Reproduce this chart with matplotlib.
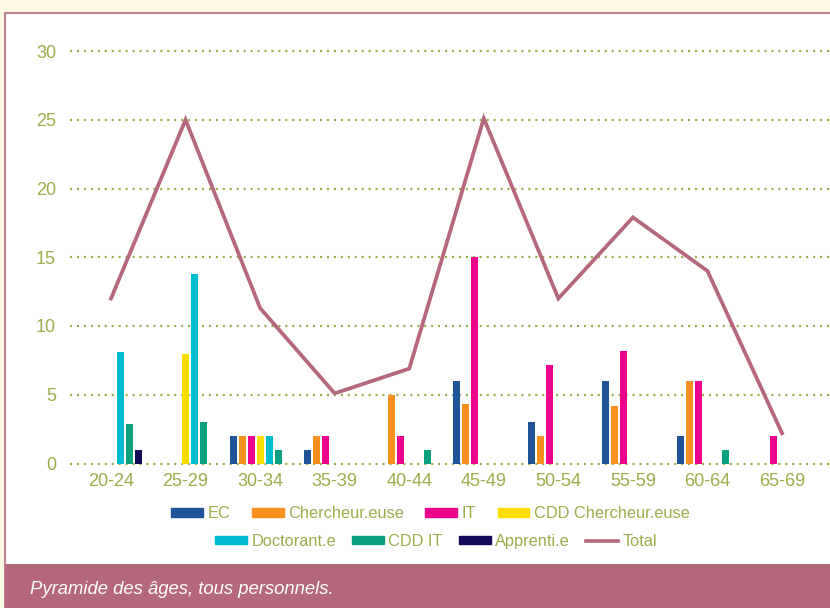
import numpy as np
import matplotlib.pyplot as plt
from matplotlib.patches import Rectangle
from matplotlib.lines import Line2D

plt.rcParams['font.family'] = ['Liberation Sans', 'DejaVu Sans']
plt.rcParams['lines.scale_dashes'] = False

ages = ['20-24', '25-29', '30-34', '35-39', '40-44',
        '45-49', '50-54', '55-59', '60-64', '65-69']

ec = [0, 0, 2, 1, 0, 6, 3, 6, 2, 0]
chercheur = [0, 0, 2, 2, 5, 4.3, 2, 4.2, 6, 0]
it = [0, 0, 2, 2, 2, 15, 7.2, 8.2, 6, 2]
cdd_chercheur = [0, 8, 2, 0, 0, 0, 0, 0, 0, 0]
doctorant = [8.1, 13.8, 2, 0, 0, 0, 0, 0, 0, 0]
cdd_it = [2.9, 3, 1, 0, 1, 0, 0, 0, 1, 0]
apprenti = [1, 0, 0, 0, 0, 0, 0, 0, 0, 0]
total = [12, 25, 11.3, 5.1, 6.9, 25.1, 12, 17.9, 14, 2.2]

series = [
    ('EC', ec, '#1f5597'),
    ('Chercheur.euse', chercheur, '#f7901e'),
    ('IT', it, '#ec008c'),
    ('CDD Chercheur.euse', cdd_chercheur, '#ffdd00'),
    ('Doctorant.e', doctorant, '#00bcd0'),
    ('CDD IT', cdd_it, '#0ba07e'),
    ('Apprenti.e', apprenti, '#140a5a'),
]

olive = '#9aae4c'
mauve = '#b5677b'
W, H = 830, 608

fig = plt.figure(figsize=(8.3, 6.08), dpi=100)
fig.patch.set_facecolor('#fef9e2')

# white panel with pink frame and caption band
fig.patches.append(Rectangle((5 / W, 0), 1, (H - 13) / H, transform=fig.transFigure,
                             facecolor='white', edgecolor=mauve, linewidth=1.2, zorder=-10))
fig.patches.append(Rectangle((5 / W, 0), 1, (H - 564) / H, transform=fig.transFigure,
                             facecolor=mauve, edgecolor='none', zorder=-9))
fig.text(30 / W, 1 - 589 / H, 'Pyramide des âges, tous personnels.', color='white',
         fontsize=13.3, style='italic', va='center', ha='left')

ax = fig.add_axes([70 / W, 1 - 463.5 / H, 760 / W, (463.5 - 51) / H])
ax.set_facecolor('none')

x = np.arange(len(ages))
slot = 0.121
bw = 0.094
for i, (name, vals, col) in enumerate(series):
    ax.bar(x + (i - 3) * slot, vals, width=bw, color=col, label=name, zorder=3)

ax.plot(x, total, color=mauve, linewidth=2.7, zorder=4, solid_joinstyle='miter')

ax.set_ylim(0, 30)
ax.set_xlim(-0.55, 9.643)
ax.set_yticks(range(0, 31, 5))
ax.set_xticks(x)
ax.set_xticklabels(ages)
ax.tick_params(length=0, colors=olive, labelsize=13)
ax.tick_params(axis='y', pad=10)
ax.tick_params(axis='x', pad=7)
for s in ax.spines.values():
    s.set_visible(False)
for yv in range(0, 31, 5):
    ax.axhline(yv, color=olive, linewidth=1.6, linestyle=(0, (1.5, 3.5)), zorder=1,
               clip_on=False)

# legend in two centred rows
handles = [Rectangle((0, 0), 1, 1, color=c) for _, _, c in series]
names = [n for n, _, _ in series]
tot_handle = Line2D([0], [0], color=mauve, linewidth=2.6)
leg_kw = dict(ncol=4, loc='center', frameon=False, fontsize=11.8,
              handlelength=1.95, handleheight=0.43, handletextpad=0.28,
              labelcolor=olive)
fig.legend(handles[:4], names[:4], bbox_to_anchor=(430.5 / W, 1 - 514 / H),
           columnspacing=1.29, **leg_kw)
fig.legend(handles[4:] + [tot_handle], names[4:] + ['Total'],
           bbox_to_anchor=(436 / W, 1 - 541.5 / H), columnspacing=0.98, **leg_kw)

fig.savefig('out.png', dpi=100, facecolor=fig.get_facecolor())
